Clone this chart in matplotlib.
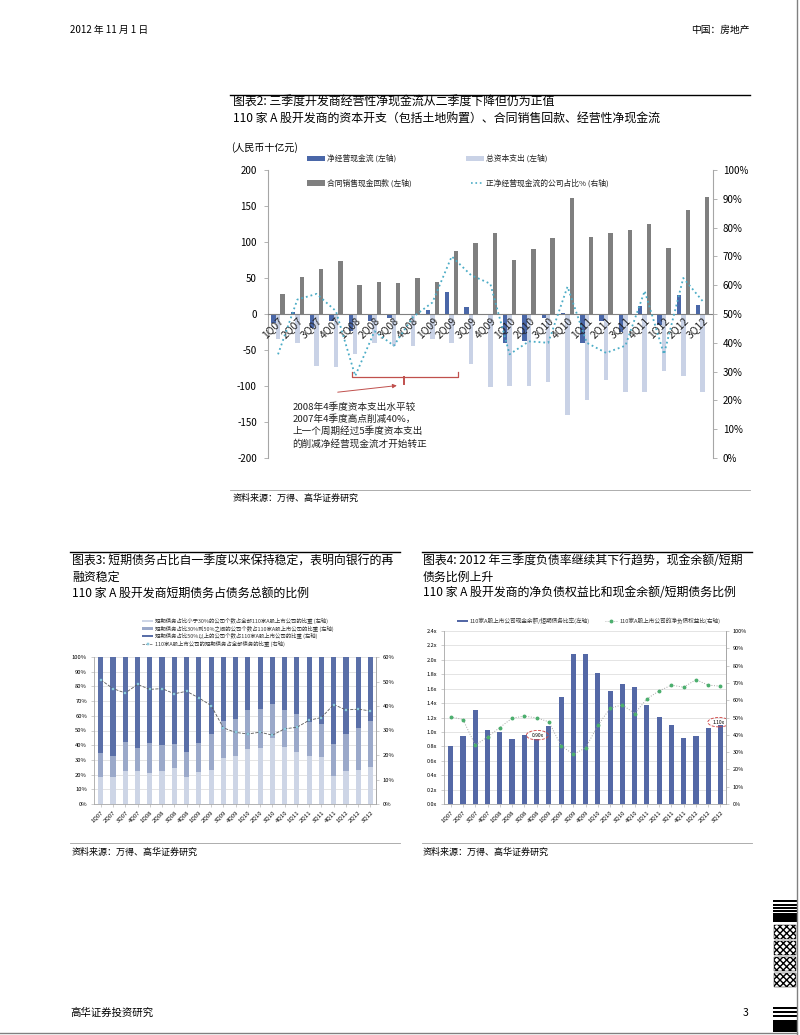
import numpy as np
import matplotlib
matplotlib.use('Agg')
import matplotlib.pyplot as plt
from matplotlib.patches import Rectangle, Ellipse
from matplotlib.lines import Line2D

plt.rcParams['font.family'] = ['Noto Sans CJK SC', 'DejaVu Sans']
plt.rcParams['axes.unicode_minus'] = False

# ---- data ----
quarters = ['1Q07', '2Q07', '3Q07', '4Q07', '1Q08', '2Q08', '3Q08', '4Q08',
            '1Q09', '2Q09', '3Q09', '4Q09', '1Q10', '2Q10', '3Q10', '4Q10',
            '1Q11', '2Q11', '3Q11', '4Q11', '1Q12', '2Q12', '3Q12']

# chart 2 (RMB bn, % of companies)
net_cf = [-12, 3, -19, -10, -24, -10, -6, -2, 6, 30, 10, -2, -40,
          -37, -5, 1, -40, -10, -25, 11, -15, 26, 12]
capex = [-35, -40, -72, -74, -56, -40, -45, -44, -35, -40, -70, -102, -100,
         -100, -94, -140, -119, -92, -109, -108, -79, -86, -109]
sales = [28, 51, 62, 73, 40, 45, 43, 50, 45, 88, 98, 112, 75,
         90, 106, 161, 107, 112, 116, 125, 92, 144, 163]
pos_share = [36, 55, 57, 51, 28.5, 44, 39, 49, 54, 70, 63.5, 60.5, 36,
             40.5, 40, 59.5, 40, 36.5, 39, 58, 36, 62.5, 54.5]

# chart 3 (% of companies, % of debt)
share_lt30 = [18.5, 18.5, 22.6, 22.6, 20.8, 22.6, 24.4, 18.5, 21.7, 23.0, 31.0, 32.8,
              37.1, 38.2, 44.6, 38.9, 35.3, 32.8, 31.9, 19.2, 22.6, 23.0, 25.3]
share_30_50 = [15.9, 14.3, 19.3, 15.4, 20.8, 17.2, 16.3, 16.8, 19.9, 24.5, 25.6, 25.3,
               26.7, 26.3, 23.7, 24.9, 25.6, 22.9, 22.6, 21.5, 24.7, 28.4, 31.3]
share_gt50 = [65.6, 67.2, 58.1, 62.0, 58.4, 60.2, 59.3, 64.7, 58.4, 52.5, 43.4, 41.9,
              36.2, 35.5, 31.7, 36.2, 39.1, 44.3, 45.5, 59.3, 52.7, 48.6, 43.4]
short_ratio = [50.7, 47.1, 45.3, 48.8, 46.8, 47.1, 45.0, 46.0, 43.3, 40.2, 31.1, 29.2,
               28.6, 29.3, 28.1, 30.7, 31.3, 34.2, 35.3, 40.6, 38.4, 38.7, 38.0]

# chart 4 (x, %)
cash_ratio = [0.80, 0.94, 1.30, 1.02, 1.00, 0.90, 0.96, 0.90, 1.08, 1.48, 2.08, 2.08,
              1.82, 1.57, 1.67, 1.62, 1.38, 1.21, 1.09, 0.92, 0.94, 1.06, 1.10]
net_gearing = [50.4, 48.8, 34.0, 38.8, 44.2, 49.6, 50.8, 49.8, 47.5, 33.7, 28.7, 32.5,
               45.4, 55.4, 57.3, 52.3, 60.8, 65.4, 68.7, 67.5, 71.9, 68.7, 68.1]

W, H = 800, 1035


def fx(px):
    return px / W


def fy(py):
    return 1 - py / H


fig = plt.figure(figsize=(8, 10.35), dpi=100)

# ---- page furniture ----
fig.text(fx(70), fy(30), '2012 年 11 月 1 日', fontsize=7, va='center')
fig.text(fx(750), fy(30), '中国：房地产', fontsize=7, va='center', ha='right')
fig.text(fx(70), fy(1013), '高华证券投资研究', fontsize=7.5, va='center')
fig.text(fx(748), fy(1013), '3', fontsize=7.5, va='center', ha='right')
fig.add_artist(Line2D([fx(797), fx(797)], [0, 1], color='#808080', lw=1))
fig.add_artist(Line2D([0, fx(797)], [fy(1033), fy(1033)], color='#808080', lw=1))

# barcode-like decoration at right edge
for y0, h in [(900, 2), (904, 1.5), (907, 1.5), (910, 1.5), (1007, 2), (1011, 1.5), (1015, 2)]:
    fig.add_artist(Rectangle((fx(773), fy(y0 + h)), fx(24), h / H, color='black', lw=0))
for y0, h in [(913, 9), (1020, 12)]:
    fig.add_artist(Rectangle((fx(773), fy(y0 + h)), fx(24), h / H, color='black', lw=0))
for y0 in [925, 941, 957, 973]:
    fig.add_artist(Rectangle((fx(774), fy(y0 + 14)), fx(22), 14 / H, facecolor='white',
                             edgecolor='black', hatch='xxxxx', lw=0.3))

# title rules and source rules
for x0, x1, y in [(230, 750, 95), (70, 400, 552), (422, 752, 552)]:
    fig.add_artist(Line2D([fx(x0), fx(x1)], [fy(y), fy(y)], color='black', lw=1))
for x0, x1, y in [(230, 750, 490), (70, 400, 843), (422, 752, 843)]:
    fig.add_artist(Line2D([fx(x0), fx(x1)], [fy(y), fy(y)], color='#A0A0A0', lw=0.6))

fig.text(fx(233), fy(102.5), '图表2: 三季度开发商经营性净现金流从二季度下降但仍为正值', fontsize=8.6, va='center')
fig.text(fx(233), fy(119), '110 家 A 股开发商的资本开支（包括土地购置）、合同销售回款、经营性净现金流',
         fontsize=8.6, va='center')
fig.text(fx(233), fy(498), '资料来源：万得、高华证券研究', fontsize=6.5, va='center')

fig.text(fx(72), fy(561), '图表3: 短期债务占比自一季度以来保持稳定，表明向银行的再', fontsize=8.6, va='center')
fig.text(fx(72), fy(577), '融资稳定', fontsize=8.6, va='center')
fig.text(fx(72), fy(593), '110 家 A 股开发商短期债务占债务总额的比例', fontsize=8.6, va='center')
fig.text(fx(72), fy(852), '资料来源：万得、高华证券研究', fontsize=6.5, va='center')

fig.text(fx(423), fy(561), '图表4: 2012 年三季度负债率继续其下行趋势，现金余额/短期', fontsize=8.6, va='center')
fig.text(fx(423), fy(577), '债务比例上升', fontsize=8.6, va='center')
fig.text(fx(423), fy(593), '110 家 A 股开发商的净负债权益比和现金余额/短期债务比例', fontsize=8.6, va='center')
fig.text(fx(423), fy(852), '资料来源：万得、高华证券研究', fontsize=6.5, va='center')

x = np.arange(len(quarters))
spine_c = '#A6A6A6'

# ---- chart 2 ----
c_net, c_cap, c_sal, c_line = '#4A67A8', '#C9D2E6', '#7F7F7F', '#4BACC6'
ax = fig.add_axes([fx(268), fy(458), (713 - 268) / W, (458 - 170) / H])
w = 0.23
ax.bar(x - w, net_cf, w, color=c_net, zorder=2)
ax.bar(x, capex, w, color=c_cap, zorder=2)
ax.bar(x + w, sales, w, color=c_sal, zorder=2)
ax.set_xlim(-0.52, 22.54)
ax.set_ylim(-200, 200)
ax.set_yticks(range(-200, 201, 50))
ax.spines['bottom'].set_position(('data', 0))
ax.spines['bottom'].set_color('#808080')
ax.spines['top'].set_visible(False)
ax.spines['right'].set_visible(False)
ax.spines['left'].set_color(spine_c)
ax.set_xticks(x)
ax.set_xticklabels(quarters, rotation=45, ha='right', va='top', rotation_mode='anchor',
                   fontsize=7.5, color='#222222')
ax.xaxis.set_zorder(5)
ax.tick_params(axis='x', length=0, pad=1)
ax.tick_params(axis='y', length=3, width=0.6, color=spine_c, labelsize=7, pad=5)

axr = ax.twinx()
axr.plot(x, pos_share, color=c_line, ls=':', lw=1.3)
axr.set_ylim(0, 100)
axr.set_yticks(range(0, 101, 10))
axr.set_yticklabels([f'{v}%' for v in range(0, 101, 10)])
axr.tick_params(axis='y', length=3, width=0.6, color=spine_c, labelsize=7, pad=4)
for s in ['top', 'bottom', 'left']:
    axr.spines[s].set_visible(False)
axr.spines['right'].set_color(spine_c)

# annotation bracket + arrow + note
red = '#C0504D'
ax.plot([3.82, 3.82, 9.34, 9.34], [-80, -88, -88, -80], color=red, lw=0.9, zorder=4)
ax.plot([6.55, 6.55], [-88, -97], color=red, lw=1.4, zorder=4)
ax.annotate('', xy=(6.3, -99), xytext=(2.95, -109),
            arrowprops=dict(arrowstyle='-|>', color=red, lw=0.7, mutation_scale=6), zorder=4)
ax.text(0.73, -122, '2008年4季度资本支出水平较\n2007年4季度高点削减40%，\n上一个周期经过5季度资本支出\n的削减净经营现金流才开始转正',
        fontsize=6.9, va='top', ha='left', linespacing=1.35, color='#222222')

fig.text(fx(231), fy(148), '(人民币十亿元)', fontsize=7.2, va='center')
leg2 = [(307, 158, 'patch', c_net, '净经营现金流 (左轴)'),
        (466, 158, 'patch', c_cap, '总资本支出 (左轴)'),
        (307, 183, 'patch', c_sal, '合同销售现金回款 (左轴)'),
        (466, 183, 'line', c_line, '正净经营现金流的公司占比% (右轴)')]
for lx, ly, kind, col, lab in leg2:
    if kind == 'patch':
        fig.add_artist(Rectangle((fx(lx), fy(ly + 2.5)), fx(18), 5 / H, color=col, lw=0))
    else:
        fig.add_artist(Line2D([fx(lx + 5), fx(lx + 18)], [fy(ly), fy(ly)], color=col, ls=':', lw=1.2))
    fig.text(fx(lx + 20), fy(ly), lab, fontsize=5.6, va='center', color='#222222')

# ---- chart 3 ----
c_l, c_m, c_d = '#CDD5E6', '#9BA9CA', '#5A6FA8'
ax3 = fig.add_axes([fx(94), fy(804), (376 - 94) / W, (804 - 657) / H])
b = 0.42
ax3.bar(x, share_lt30, b, color=c_l, zorder=2)
ax3.bar(x, share_30_50, b, bottom=share_lt30, color=c_m, zorder=2)
ax3.bar(x, share_gt50, b, bottom=np.add(share_lt30, share_30_50), color=c_d, zorder=2)
ax3.set_xlim(-0.55, 22.45)
ax3.set_ylim(0, 100)
ax3.set_yticks(range(0, 101, 10))
ax3.set_yticklabels([f'{v}%' for v in range(0, 101, 10)])
ax3.grid(axis='y', color='#D9D9D9', lw=0.5, zorder=0)
ax3.set_xticks(x)
ax3.set_xticklabels(quarters, rotation=45, ha='right', va='top', rotation_mode='anchor', fontsize=4.3)
ax3.tick_params(axis='x', length=2, width=0.4, color=spine_c, pad=2)
ax3.tick_params(axis='y', length=2, width=0.4, color=spine_c, labelsize=4.2, pad=3)
ax3.spines['top'].set_visible(False)
for s in ['left', 'bottom', 'right']:
    ax3.spines[s].set_color(spine_c)
    ax3.spines[s].set_linewidth(0.6)

ax3r = ax3.twinx()
ax3r.plot(x, short_ratio, color='#595959', ls='--', lw=0.6, marker='s', ms=1.8,
          mfc='#9BD3E3', mec='#6FBBD3', mew=0.3)
ax3r.set_ylim(0, 60)
ax3r.set_yticks(range(0, 61, 10))
ax3r.set_yticklabels([f'{v}%' for v in range(0, 61, 10)])
ax3r.tick_params(axis='y', length=2, width=0.4, color=spine_c, labelsize=4.2, pad=3)
for s in ['top', 'bottom', 'left']:
    ax3r.spines[s].set_visible(False)
ax3r.spines['right'].set_color(spine_c)
ax3r.spines['right'].set_linewidth(0.6)

leg3 = [(621, 'patch', c_l, '短期债务占比小于30%的公司个数占全部110家A股上市公司的比重 (左轴)'),
        (628.5, 'patch', c_m, '短期债务占比30%到50%之间的公司个数占110家A股上市公司的比重 (左轴)'),
        (636, 'patch', c_d, '短期债务占比50%以上的公司个数占110家A股上市公司的比重 (左轴)'),
        (644, 'line', '#595959', '110家A股上市公司的短期债务占全部债务的比重 (右轴)')]
for ly, kind, col, lab in leg3:
    if kind == 'patch':
        fig.add_artist(Rectangle((fx(142), fy(ly + 1.3)), fx(11), 2.6 / H, color=col, lw=0))
    else:
        fig.add_artist(Line2D([fx(142), fx(153)], [fy(ly), fy(ly)], color=col, ls='--', lw=0.5))
        fig.add_artist(Line2D([fx(147.5)], [fy(ly)], marker='s', ms=1.8, mfc='#9BD3E3',
                              mec='#6FBBD3', mew=0.3, ls='none'))
    fig.text(fx(155), fy(ly), lab, fontsize=3.9, va='center', color='#333333')

# ---- chart 4 ----
c_bar4, c_line4 = '#5468A6', '#A6A6A6'
ax4 = fig.add_axes([fx(444), fy(804), (726 - 444) / W, (804 - 631) / H])
ax4.bar(x, cash_ratio, 0.42, color=c_bar4, zorder=2)
ax4.set_xlim(-0.55, 22.45)
ax4.set_ylim(0, 2.4)
yt4 = np.arange(0, 2.41, 0.2)
ax4.set_yticks(yt4)
ax4.set_yticklabels([f'{v:.1f}x' for v in yt4])
ax4.grid(axis='y', color='#D9D9D9', lw=0.5, zorder=0)
ax4.set_xticks(x)
ax4.set_xticklabels(quarters, rotation=45, ha='right', va='top', rotation_mode='anchor', fontsize=4.3)
ax4.tick_params(axis='x', length=2, width=0.4, color=spine_c, pad=2)
ax4.tick_params(axis='y', length=2, width=0.4, color=spine_c, labelsize=4.0, pad=3)
ax4.spines['top'].set_visible(False)
for s in ['left', 'bottom', 'right']:
    ax4.spines[s].set_color(spine_c)
    ax4.spines[s].set_linewidth(0.6)

ax4r = ax4.twinx()
ax4r.plot(x, net_gearing, color=c_line4, ls=':', lw=0.7, marker='o', ms=1.8,
          mfc='#4CAF6E', mec='#4CAF6E')
ax4r.set_ylim(0, 100)
ax4r.set_yticks(range(0, 101, 10))
ax4r.set_yticklabels([f'{v}%' for v in range(0, 101, 10)])
ax4r.tick_params(axis='y', length=2, width=0.4, color=spine_c, labelsize=4.0, pad=3)
for s in ['top', 'bottom', 'left']:
    ax4r.spines[s].set_visible(False)
ax4r.spines['right'].set_color(spine_c)
ax4r.spines['right'].set_linewidth(0.6)

for xi, yi, lab in [(7.07, 0.955, '0.90x'), (21.87, 1.135, '1.10x')]:
    ax4.add_patch(Ellipse((xi, yi), 1.8, 0.13, fill=False, edgecolor='#D04040', ls='--', lw=0.6, zorder=5))
    ax4.text(xi, yi, lab, fontsize=3.6, ha='center', va='center', zorder=6,
             bbox=dict(facecolor='white', edgecolor='none', pad=0.3))

fig.add_artist(Rectangle((fx(457), fy(622.3)), fx(11), 2.6 / H, color=c_bar4, lw=0))
fig.text(fx(470), fy(621), '110家A股上市公司现金余额/短期债务比率(左轴)', fontsize=4.1, va='center', color='#333333')
fig.add_artist(Line2D([fx(605), fx(617)], [fy(621), fy(621)], color=c_line4, ls=':', lw=0.6))
fig.add_artist(Line2D([fx(611)], [fy(621)], marker='o', ms=1.8, mfc='#4CAF6E', mec='#4CAF6E', ls='none'))
fig.text(fx(620), fy(621), '110家A股上市公司的净负债权益比(右轴)', fontsize=4.1, va='center', color='#333333')

fig.savefig('out.png', dpi=100)
